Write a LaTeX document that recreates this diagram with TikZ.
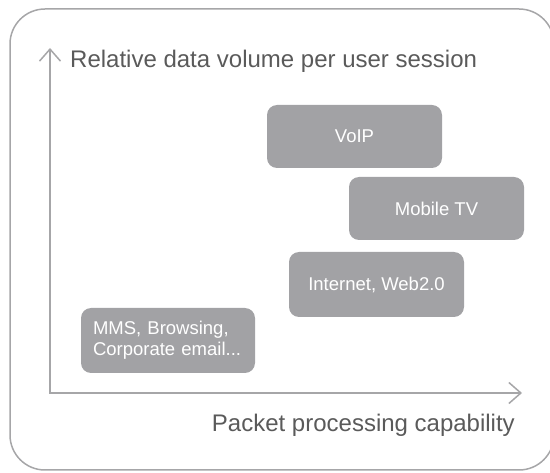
\documentclass[tikz,border=0pt]{standalone}
\usepackage{fontspec}
\setmainfont{Liberation Sans}
\usetikzlibrary{arrows.meta}
\definecolor{linegray}{HTML}{A6A6A8}
\definecolor{boxgray}{HTML}{A2A2A5}
\definecolor{labelgray}{HTML}{5A5A5A}
\tikzset{
  appbox/.style={fill=boxgray, draw=none, rounded corners=10pt, text=white,
    minimum width=175pt, minimum height=63pt, inner sep=0pt,
    font=\fontsize{18.5pt}{21pt}\selectfont},
  axisline/.style={draw=linegray, line width=1.5pt,
    arrows={Straight Barb[length=12pt,width=21pt,line width=1.5pt]-Straight Barb[length=12pt,width=21pt,line width=1.5pt]}},
  axislabel/.style={text=labelgray, inner sep=0pt, font=\fontsize{24pt}{28pt}\selectfont},
  frame/.style={draw=linegray, line width=1.5pt, rounded corners=35pt}
}
\begin{document}
\begin{tikzpicture}[x=1pt,y=-1pt]
\useasboundingbox (0,0) rectangle (550,473);
\clip (0,0) rectangle (550,473);
\draw[frame] (10,9) rectangle (554,470);
\coordinate (ytip) at (50,48);
\coordinate (origin) at (50,393);
\coordinate (xtip) at (522,393);
\draw[axisline] (ytip) -- (origin) -- (xtip);
\node[axislabel, anchor=base west] (ylab) at (70,68) {Relative data volume per user session};
\node[axislabel, anchor=base east] (xlab) at (515,432) {Packet processing capability};
\node[appbox] (voip) at (354.5,136.5) {VoIP};
\node[appbox] (tv) at (436.5,208.5) {Mobile TV};
\node[appbox, minimum height=65pt] (web) at (376.5,284.5) {Internet, Web2.0};
\node[appbox, minimum width=174pt, minimum height=65pt, inner xsep=12pt,
  text width=150pt, align=left] (mms) at (168,340.5) {MMS, Browsing,\\Corporate email...};
\end{tikzpicture}
\end{document}
